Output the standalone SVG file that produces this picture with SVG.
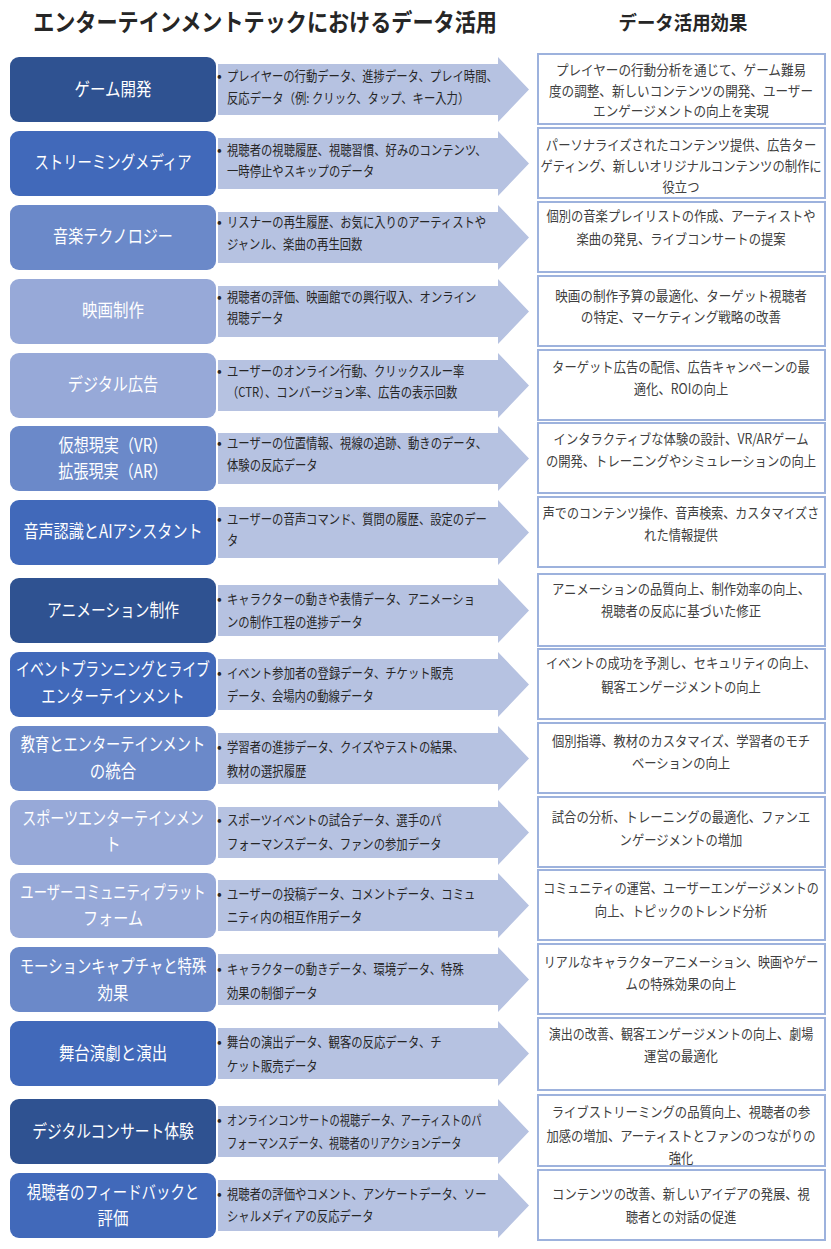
<svg xmlns="http://www.w3.org/2000/svg" xmlns:xlink="http://www.w3.org/1999/xlink" width="831" height="1249" viewBox="0 0 831 1249">
<style>
text{font-family:"Noto Sans CJK JP","Noto Sans",sans-serif}
.title{font-size:24px;font-weight:700;fill:#262626;text-anchor:middle}
.sub{font-size:19px;font-weight:700;fill:#262626;text-anchor:middle}
.lb{stroke:none}
.c1{fill:#2F5291}.c2{fill:#4169BA}.c3{fill:#6B89C9}.c4{fill:#97A9D8}
.lt{font-size:18px;fill:#FFFFFF;text-anchor:middle}
.mt{font-size:13.5px;fill:#262626}
.bul{font-size:14px;fill:#262626}
.rb{fill:#FFFFFF;stroke:#9DB2DD;stroke-width:2}
.rt{font-size:14px;fill:#404040;text-anchor:middle}
.arr{fill:#B6C2E1}
</style>
<defs>
<path id="arrow" d="M218,7 H498 V0 L529,32.5 L498,65 V58 H218 Z"/>
</defs>
<rect width="831" height="1249" fill="#FFFFFF"/>
<g id="header">
<text class="title" transform="matrix(.88 0 0 1 265 31)">エンターテインメントテックにおけるデータ活用</text>
<text class="sub" transform="matrix(.97 0 0 1 683 30)">データ活用効果</text>
</g>
<g id="connectors" class="arr">
<use xlink:href="#arrow" y="57"/>
<use xlink:href="#arrow" y="131"/>
<use xlink:href="#arrow" y="205"/>
<use xlink:href="#arrow" y="279"/>
<use xlink:href="#arrow" y="353"/>
<use xlink:href="#arrow" y="426"/>
<use xlink:href="#arrow" y="500"/>
<use xlink:href="#arrow" y="578"/>
<use xlink:href="#arrow" y="652"/>
<use xlink:href="#arrow" y="726"/>
<use xlink:href="#arrow" y="800"/>
<use xlink:href="#arrow" y="873"/>
<use xlink:href="#arrow" y="947"/>
<use xlink:href="#arrow" y="1021"/>
<use xlink:href="#arrow" y="1099"/>
<use xlink:href="#arrow" y="1173"/>
</g>

<g id="row1">
<rect class="lb c1" x="10" y="57" width="206" height="65" rx="9"/>
<text class="lt" transform="matrix(.86 0 0 1 113 96)">ゲーム開発</text>
<text class="bul" x="217" y="81">•</text>
<text class="mt" transform="matrix(.84 0 0 1 227 81)">プレイヤーの行動データ、進捗データ、プレイ時間、</text>
<text class="mt" transform="matrix(.84 0 0 1 227 103)">反応データ（例: クリック、タップ、キー入力）</text>
<rect class="rb" x="538" y="54" width="287" height="70"/>
<text class="rt" transform="matrix(.9 0 0 1 681 75)">プレイヤーの行動分析を通じて、ゲーム難易</text>
<text class="rt" transform="matrix(.9 0 0 1 681 96)">度の調整、新しいコンテンツの開発、ユーザー</text>
<text class="rt" transform="matrix(.9 0 0 1 681 116)">エンゲージメントの向上を実現</text>
</g>

<g id="row2">
<rect class="lb c2" x="10" y="131" width="206" height="65" rx="9"/>
<text class="lt" transform="matrix(.8 0 0 1 113 169)">ストリーミングメディア</text>
<text class="bul" x="217" y="155">•</text>
<text class="mt" transform="matrix(.84 0 0 1 227 155)">視聴者の視聴履歴、視聴習慣、好みのコンテンツ、</text>
<text class="mt" transform="matrix(.84 0 0 1 227 176)">一時停止やスキップのデータ</text>
<rect class="rb" x="538" y="128" width="287" height="70"/>
<text class="rt" transform="matrix(.88 0 0 1 681 150)">パーソナライズされたコンテンツ提供、広告ター</text>
<text class="rt" transform="matrix(.88 0 0 1 681 171)">ゲティング、新しいオリジナルコンテンツの制作に</text>
<text class="rt" transform="matrix(.88 0 0 1 681 192)">役立つ</text>
</g>

<g id="row3">
<rect class="lb c3" x="10" y="205" width="206" height="65" rx="9"/>
<text class="lt" transform="matrix(.84 0 0 1 113 243)">音楽テクノロジー</text>
<text class="bul" x="217" y="227">•</text>
<text class="mt" transform="matrix(.84 0 0 1 227 227)">リスナーの再生履歴、お気に入りのアーティストや</text>
<text class="mt" transform="matrix(.84 0 0 1 227 249)">ジャンル、楽曲の再生回数</text>
<rect class="rb" x="538" y="202" width="287" height="70"/>
<text class="rt" transform="matrix(.88 0 0 1 681 221)">個別の音楽プレイリストの作成、アーティストや</text>
<text class="rt" transform="matrix(.88 0 0 1 681 244)">楽曲の発見、ライブコンサートの提案</text>
</g>

<g id="row4">
<rect class="lb c4" x="10" y="279" width="206" height="65" rx="9"/>
<text class="lt" transform="matrix(.86 0 0 1 113 317)">映画制作</text>
<text class="bul" x="217" y="302">•</text>
<text class="mt" transform="matrix(.84 0 0 1 227 302)">視聴者の評価、映画館での興行収入、オンライン</text>
<text class="mt" transform="matrix(.84 0 0 1 227 323)">視聴データ</text>
<rect class="rb" x="538" y="276" width="287" height="70"/>
<text class="rt" transform="matrix(.9 0 0 1 681 301)">映画の制作予算の最適化、ターゲット視聴者</text>
<text class="rt" transform="matrix(.9 0 0 1 681 322)">の特定、マーケティング戦略の改善</text>
</g>

<g id="row5">
<rect class="lb c4" x="10" y="353" width="206" height="65" rx="9"/>
<text class="lt" transform="matrix(.84 0 0 1 113 391)">デジタル広告</text>
<text class="bul" x="217" y="376">•</text>
<text class="mt" transform="matrix(.84 0 0 1 227 376)">ユーザーのオンライン行動、クリックスルー率</text>
<text class="mt" transform="matrix(.84 0 0 1 227 397)">（CTR）、コンバージョン率、広告の表示回数</text>
<rect class="rb" x="538" y="350" width="287" height="70"/>
<text class="rt" transform="matrix(.88 0 0 1 681 372)">ターゲット広告の配信、広告キャンペーンの最</text>
<text class="rt" transform="matrix(.88 0 0 1 681 394)">適化、ROIの向上</text>
</g>

<g id="row6">
<rect class="lb c3" x="10" y="426" width="206" height="65" rx="9"/>
<text class="lt" transform="matrix(.84 0 0 1 113 452)">仮想現実（VR）</text>
<text class="lt" transform="matrix(.84 0 0 1 113 478)">拡張現実（AR）</text>
<text class="bul" x="217" y="448">•</text>
<text class="mt" transform="matrix(.84 0 0 1 227 448)">ユーザーの位置情報、視線の追跡、動きのデータ、</text>
<text class="mt" transform="matrix(.84 0 0 1 227 470)">体験の反応データ</text>
<rect class="rb" x="538" y="423" width="287" height="70"/>
<text class="rt" transform="matrix(.88 0 0 1 681 444)">インタラクティブな体験の設計、VR/ARゲーム</text>
<text class="rt" transform="matrix(.88 0 0 1 681 466)">の開発、トレーニングやシミュレーションの向上</text>
</g>

<g id="row7">
<rect class="lb c2" x="10" y="500" width="206" height="65" rx="9"/>
<text class="lt" transform="matrix(.84 0 0 1 113 538)">音声認識とAIアシスタント</text>
<text class="bul" x="217" y="524">•</text>
<text class="mt" transform="matrix(.84 0 0 1 227 524)">ユーザーの音声コマンド、質問の履歴、設定のデー</text>
<text class="mt" transform="matrix(.84 0 0 1 227 545)">タ</text>
<rect class="rb" x="538" y="497" width="287" height="70"/>
<text class="rt" transform="matrix(.86 0 0 1 681 518)">声でのコンテンツ操作、音声検索、カスタマイズさ</text>
<text class="rt" transform="matrix(.88 0 0 1 681 540)">れた情報提供</text>
</g>

<g id="row8">
<rect class="lb c1" x="10" y="578" width="206" height="65" rx="9"/>
<text class="lt" transform="matrix(.82 0 0 1 113 617)">アニメーション制作</text>
<text class="bul" x="217" y="604">•</text>
<text class="mt" transform="matrix(.84 0 0 1 227 604)">キャラクターの動きや表情データ、アニメーショ</text>
<text class="mt" transform="matrix(.84 0 0 1 227 627)">ンの制作工程の進捗データ</text>
<rect class="rb" x="538" y="574" width="287" height="72"/>
<text class="rt" transform="matrix(.88 0 0 1 681 594)">アニメーションの品質向上、制作効率の向上、</text>
<text class="rt" transform="matrix(.88 0 0 1 681 616)">視聴者の反応に基づいた修正</text>
</g>

<g id="row9">
<rect class="lb c2" x="10" y="652" width="206" height="65" rx="9"/>
<text class="lt" transform="matrix(.77 0 0 1 113 676)">イベントプランニングとライブ</text>
<text class="lt" transform="matrix(.8 0 0 1 113 703)">エンターテインメント</text>
<text class="bul" x="217" y="678">•</text>
<text class="mt" transform="matrix(.84 0 0 1 227 678)">イベント参加者の登録データ、チケット販売</text>
<text class="mt" transform="matrix(.84 0 0 1 227 701)">データ、会場内の動線データ</text>
<rect class="rb" x="538" y="649" width="287" height="70"/>
<text class="rt" transform="matrix(.88 0 0 1 681 668)">イベントの成功を予測し、セキュリティの向上、</text>
<text class="rt" transform="matrix(.88 0 0 1 681 692)">観客エンゲージメントの向上</text>
</g>

<g id="row10">
<rect class="lb c3" x="10" y="726" width="206" height="65" rx="9"/>
<text class="lt" transform="matrix(.79 0 0 1 113 751)">教育とエンターテインメント</text>
<text class="lt" transform="matrix(.86 0 0 1 113 778)">の統合</text>
<text class="bul" x="217" y="752">•</text>
<text class="mt" transform="matrix(.84 0 0 1 227 752)">学習者の進捗データ、クイズやテストの結果、</text>
<text class="mt" transform="matrix(.84 0 0 1 227 776)">教材の選択履歴</text>
<rect class="rb" x="538" y="723" width="287" height="70"/>
<text class="rt" transform="matrix(.88 0 0 1 681 746)">個別指導、教材のカスタマイズ、学習者のモチ</text>
<text class="rt" transform="matrix(.88 0 0 1 681 768)">ベーションの向上</text>
</g>

<g id="row11">
<rect class="lb c4" x="10" y="800" width="206" height="65" rx="9"/>
<text class="lt" transform="matrix(.78 0 0 1 113 825)">スポーツエンターテインメン</text>
<text class="lt" transform="matrix(.84 0 0 1 113 851)">ト</text>
<text class="bul" x="217" y="825">•</text>
<text class="mt" transform="matrix(.84 0 0 1 227 825)">スポーツイベントの試合データ、選手のパ</text>
<text class="mt" transform="matrix(.84 0 0 1 227 849)">フォーマンスデータ、ファンの参加データ</text>
<rect class="rb" x="538" y="797" width="287" height="70"/>
<text class="rt" transform="matrix(.88 0 0 1 681 822)">試合の分析、トレーニングの最適化、ファンエ</text>
<text class="rt" transform="matrix(.88 0 0 1 681 845)">ンゲージメントの増加</text>
</g>

<g id="row12">
<rect class="lb c4" x="10" y="873" width="206" height="65" rx="9"/>
<text class="lt" transform="matrix(.74 0 0 1 113 899)">ユーザーコミュニティプラット</text>
<text class="lt" transform="matrix(.84 0 0 1 113 925)">フォーム</text>
<text class="bul" x="217" y="899">•</text>
<text class="mt" transform="matrix(.84 0 0 1 227 899)">ユーザーの投稿データ、コメントデータ、コミュ</text>
<text class="mt" transform="matrix(.84 0 0 1 227 922)">ニティ内の相互作用データ</text>
<rect class="rb" x="538" y="870" width="287" height="70"/>
<text class="rt" transform="matrix(.86 0 0 1 681 893)">コミュニティの運営、ユーザーエンゲージメントの</text>
<text class="rt" transform="matrix(.88 0 0 1 681 916)">向上、トピックのトレンド分析</text>
</g>

<g id="row13">
<rect class="lb c3" x="10" y="947" width="206" height="65" rx="9"/>
<text class="lt" transform="matrix(.8 0 0 1 113 973)">モーションキャプチャと特殊</text>
<text class="lt" transform="matrix(.86 0 0 1 113 1000)">効果</text>
<text class="bul" x="217" y="974">•</text>
<text class="mt" transform="matrix(.84 0 0 1 227 974)">キャラクターの動きデータ、環境データ、特殊</text>
<text class="mt" transform="matrix(.84 0 0 1 227 998)">効果の制御データ</text>
<rect class="rb" x="538" y="944" width="287" height="70"/>
<text class="rt" transform="matrix(.86 0 0 1 681 967)">リアルなキャラクターアニメーション、映画やゲー</text>
<text class="rt" transform="matrix(.88 0 0 1 681 989)">ムの特殊効果の向上</text>
</g>

<g id="row14">
<rect class="lb c2" x="10" y="1021" width="206" height="65" rx="9"/>
<text class="lt" transform="matrix(.86 0 0 1 113 1060)">舞台演劇と演出</text>
<text class="bul" x="217" y="1047">•</text>
<text class="mt" transform="matrix(.84 0 0 1 227 1047)">舞台の演出データ、観客の反応データ、チ</text>
<text class="mt" transform="matrix(.84 0 0 1 227 1071)">ケット販売データ</text>
<rect class="rb" x="538" y="1018" width="287" height="72"/>
<text class="rt" transform="matrix(.86 0 0 1 681 1039)">演出の改善、観客エンゲージメントの向上、劇場</text>
<text class="rt" transform="matrix(.88 0 0 1 681 1061)">運営の最適化</text>
</g>

<g id="row15">
<rect class="lb c1" x="10" y="1099" width="206" height="65" rx="9"/>
<text class="lt" transform="matrix(.82 0 0 1 113 1138)">デジタルコンサート体験</text>
<text class="bul" x="217" y="1125">•</text>
<text class="mt" transform="matrix(.76 0 0 1 227 1125)">オンラインコンサートの視聴データ、アーティストのパ</text>
<text class="mt" transform="matrix(.76 0 0 1 227 1148)">フォーマンスデータ、視聴者のリアクションデータ</text>
<rect class="rb" x="538" y="1095" width="287" height="71"/>
<text class="rt" transform="matrix(.88 0 0 1 681 1117)">ライブストリーミングの品質向上、視聴者の参</text>
<text class="rt" transform="matrix(.88 0 0 1 681 1141)">加感の増加、アーティストとファンのつながりの</text>
<text class="rt" transform="matrix(.88 0 0 1 681 1163)">強化</text>
</g>

<g id="row16">
<rect class="lb c2" x="10" y="1173" width="206" height="65" rx="9"/>
<text class="lt" transform="matrix(.8 0 0 1 113 1199)">視聴者のフィードバックと</text>
<text class="lt" transform="matrix(.86 0 0 1 113 1225)">評価</text>
<text class="bul" x="217" y="1199">•</text>
<text class="mt" transform="matrix(.84 0 0 1 227 1199)">視聴者の評価やコメント、アンケートデータ、ソー</text>
<text class="mt" transform="matrix(.84 0 0 1 227 1221)">シャルメディアの反応データ</text>
<rect class="rb" x="538" y="1170" width="287" height="70"/>
<text class="rt" transform="matrix(.88 0 0 1 681 1199)">コンテンツの改善、新しいアイデアの発展、視</text>
<text class="rt" transform="matrix(.88 0 0 1 681 1222)">聴者との対話の促進</text>
</g>
</svg>
